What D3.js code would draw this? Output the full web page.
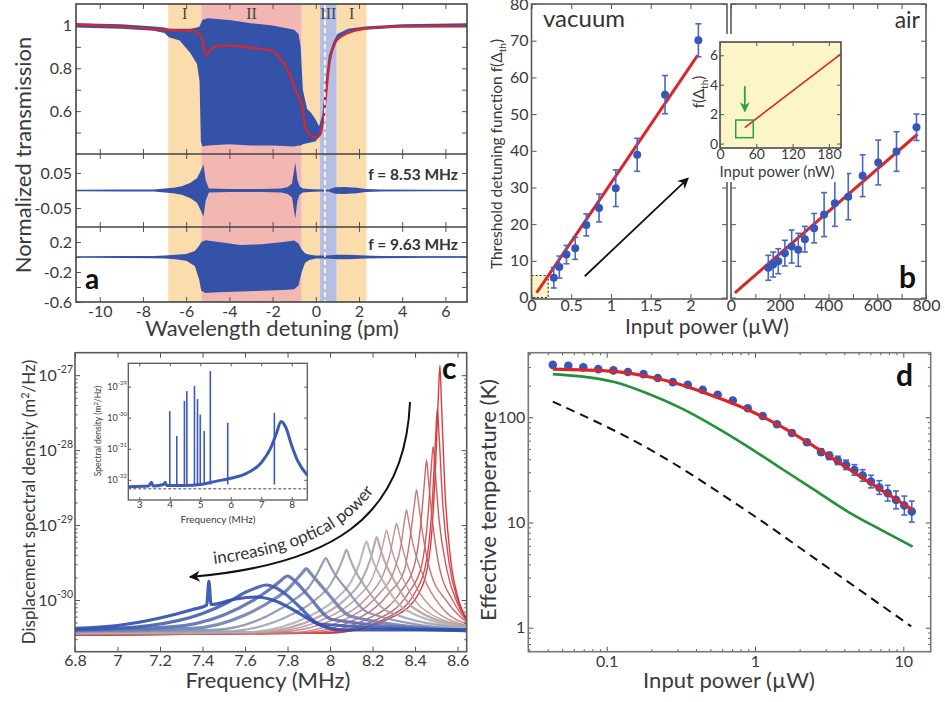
<!DOCTYPE html>
<html><head><meta charset="utf-8">
<script src="https://cdn.jsdelivr.net/npm/d3@7/dist/d3.min.js"></script>
<style>html,body{margin:0;padding:0;background:#fff;}</style>
</head><body>
<svg id="fig" width="945" height="702" xmlns="http://www.w3.org/2000/svg"></svg>
<script>
// ================= DATA =================
// ---- panel a : wavelength detuning (pm) ----
const aRegionStart = [-6.83, -5.3, -0.65, 0.19, 0.97];
const aRegionEnd   = [-5.3, -0.65, 0.19, 0.97, 2.35];
const aRegionKind  = ['I', 'II', 'I', 'III', 'I'];
const aRegionLabel = ['I', 'II', '', 'III', 'I'];
const aDashedAt = 0.42;
const aXTicks = [-10, -8, -6, -4, -2, 0, 2, 4, 6];
// transmission envelope (blue band)
const envDet = [-11.1, -9, -7.5, -7.0, -6.8, -6.3, -5.8, -5.5, -5.38, -5.32, -5.25, -5.0, -4.0, -3.0, -2.0, -1.0, -0.8, -0.7, -0.6, -0.4, -0.2, 0.0, 0.15, 0.3, 0.45, 0.6, 0.8, 1.0, 1.5, 2.3, 4, 7];
const envUp  = [1.01, 1.005, 0.995, 0.99, 0.985, 0.985, 0.985, 0.99, 0.995, 1.01, 1.025, 1.033, 1.025, 1.01, 1.0, 0.98, 0.96, 0.9, 0.7, 0.61, 0.59, 0.56, 0.53, 0.58, 0.74, 0.86, 0.92, 0.96, 0.985, 0.995, 1.005, 1.01];
const envLow = [0.99, 0.985, 0.975, 0.965, 0.945, 0.93, 0.87, 0.82, 0.74, 0.46, 0.435, 0.44, 0.445, 0.44, 0.44, 0.435, 0.44, 0.44, 0.445, 0.45, 0.455, 0.46, 0.48, 0.52, 0.66, 0.8, 0.88, 0.93, 0.97, 0.98, 0.99, 0.99];
// mean transmission (red)
const meanDet = [-11.1, -9, -7, -6, -5.55, -5.3, -5.07, -4.8, -4.2, -3, -2, -1.52, -1.2, -0.9, -0.66, -0.5, -0.36, -0.15, 0.03, 0.2, 0.3, 0.45, 0.56, 0.7, 0.96, 1.5, 2.35, 4, 7];
const meanVal = [1.005, 0.995, 0.98, 0.975, 0.97, 0.946, 0.86, 0.895, 0.907, 0.895, 0.88, 0.83, 0.77, 0.69, 0.637, 0.53, 0.497, 0.48, 0.476, 0.49, 0.53, 0.65, 0.76, 0.86, 0.93, 0.965, 0.986, 0.995, 0.998];
// f = 8.53 MHz envelope (symmetric)
const mDet = [-11.1, -9, -7.5, -7.0, -6.6, -6.2, -5.8, -5.5, -5.3, -5.2, -5.1, -4.95, -4, -2.5, -1.6, -1.3, -1.1, -0.95, -0.85, -0.75, -0.6, -0.3, 0.2, 0.6, 0.9, 1.3, 1.9, 2.3, 3, 5, 7];
const mAmp = [0.002, 0.003, 0.003, 0.006, 0.008, 0.012, 0.022, 0.035, 0.06, 0.075, 0.03, 0.006, 0.004, 0.004, 0.006, 0.01, 0.02, 0.08, 0.03, 0.012, 0.006, 0.004, 0.003, 0.003, 0.009, 0.01, 0.008, 0.004, 0.003, 0.002, 0.002];
// f = 9.63 MHz envelope
const bDet = [-11.1, -9, -7.5, -7, -6.5, -6, -5.6, -5.4, -5.3, -5.1, -4.5, -3.5, -2.5, -1.5, -1.0, -0.8, -0.65, -0.5, -0.3, 0, 0.5, 1, 1.5, 2.3, 3, 5, 7];
const bUp  = [0.008, 0.012, 0.015, 0.02, 0.03, 0.04, 0.08, 0.15, 0.2, 0.225, 0.2, 0.16, 0.17, 0.2, 0.22, 0.18, 0.1, 0.05, 0.03, 0.02, 0.02, 0.03, 0.03, 0.02, 0.015, 0.01, 0.01];
const bLow = [-0.008, -0.012, -0.015, -0.02, -0.03, -0.05, -0.12, -0.3, -0.45, -0.48, -0.47, -0.46, -0.45, -0.44, -0.43, -0.38, -0.2, -0.08, -0.04, -0.02, -0.02, -0.03, -0.03, -0.02, -0.015, -0.01, -0.01];

// ---- panel b : threshold detuning function ----
const vacP   = [0.28, 0.35, 0.44, 0.55, 0.69, 0.85, 1.06, 1.33, 1.68, 2.10];
const vacF   = [5.4, 8.3, 11.7, 13.4, 19.8, 24.4, 29.8, 38.9, 55.3, 70.1];
const vacErr = [2.8, 3, 2.5, 3, 3, 3.8, 5, 4.5, 5.2, 4.5];
const vacFitP = [0.065, 2.09];
const vacFitF = [1.3, 66];
const vacXTicks = [0, 0.5, 1, 1.5, 2];
const bYTicks = [0, 10, 20, 30, 40, 50, 60, 70, 80];
const airP   = [153, 173, 194, 221, 249, 276, 303, 341, 382, 426, 481, 540, 604, 679, 761];
const airF   = [8.1, 9.0, 9.9, 12.1, 13.9, 13.0, 15.9, 18.9, 22.6, 25.7, 27.5, 33.2, 36.8, 39.8, 46.4];
const airErr = [3.4, 3.4, 3.4, 3.5, 4.5, 4.5, 3.5, 4, 6, 6.3, 6.3, 5.7, 6.1, 5.4, 3.6];
const airFitP = [16, 765];
const airFitF = [1.3, 44.5];
const airXTicks = [0, 100, 200, 300, 400, 500, 600, 700, 800];
const insetFitP = [41, 200];
const insetFitF = [1.09, 6.1];
const insetXTicks = [0, 60, 120, 180];
const insetYTicks = [0, 2, 4, 6];
const greenBoxP = [26, 55];
const greenBoxF = [0.4, 1.6];
const greenArrow = [41, 3.9, 2.2];       // x, y from, y to
const zoomBoxP = [0, 0.21];
const zoomBoxF = [0, 6];
const blackArrowP = [0.67, 1.97];
const blackArrowF = [5.8, 32.5];

// ---- panel c : displacement spectral density, [MHz, log10(m^2/Hz)] ----
const psdTraces = [
 [[6.8,-30.47],[8.0,-30.44],[8.3,-30.22],[8.42,-29.9],[8.47,-29.35],[8.495,-28.3],[8.51,-27.25],[8.517,-26.87],[8.524,-27.35],[8.54,-28.5],[8.565,-29.4],[8.60,-29.95],[8.643,-30.25]],
 [[6.8,-30.47],[8.0,-30.44],[8.28,-30.22],[8.40,-29.9],[8.455,-29.45],[8.482,-28.65],[8.497,-27.8],[8.505,-27.45],[8.513,-27.8],[8.53,-28.7],[8.56,-29.5],[8.60,-30.0],[8.643,-30.27]],
 [[6.8,-30.47],[7.95,-30.44],[8.25,-30.22],[8.37,-29.9],[8.43,-29.55],[8.46,-28.9],[8.476,-28.25],[8.485,-27.95],[8.494,-28.25],[8.512,-28.9],[8.55,-29.6],[8.60,-30.05],[8.643,-30.28]],
 [[6.8,-30.46],[7.9,-30.44],[8.2,-30.22],[8.33,-29.9],[8.40,-29.5],[8.43,-28.9],[8.445,-28.4],[8.454,-28.13],[8.463,-28.4],[8.48,-28.9],[8.51,-29.5],[8.58,-30.02],[8.643,-30.28]],
 [[6.8,-30.46],[7.85,-30.44],[8.15,-30.22],[8.28,-29.9],[8.35,-29.6],[8.38,-29.1],[8.397,-28.72],[8.407,-28.53],[8.417,-28.72],[8.435,-29.1],[8.47,-29.6],[8.55,-30.02],[8.643,-30.3]],
 [[6.8,-30.46],[7.8,-30.44],[8.1,-30.22],[8.23,-29.92],[8.30,-29.62],[8.335,-29.25],[8.35,-28.95],[8.36,-28.8],[8.37,-28.95],[8.39,-29.25],[8.43,-29.62],[8.52,-30.08],[8.643,-30.32]],
 [[6.8,-30.45],[7.75,-30.43],[8.05,-30.22],[8.18,-29.95],[8.25,-29.66],[8.285,-29.35],[8.302,-29.1],[8.313,-28.98],[8.324,-29.1],[8.345,-29.35],[8.38,-29.66],[8.47,-30.08],[8.643,-30.34]],
 [[6.8,-30.45],[7.7,-30.43],[8.0,-30.22],[8.13,-29.96],[8.20,-29.7],[8.235,-29.42],[8.254,-29.2],[8.266,-29.07],[8.278,-29.2],[8.30,-29.42],[8.34,-29.7],[8.43,-30.1],[8.643,-30.35]],
 [[6.8,-30.44],[7.65,-30.43],[7.95,-30.22],[8.08,-29.97],[8.15,-29.73],[8.188,-29.47],[8.207,-29.28],[8.22,-29.16],[8.233,-29.28],[8.255,-29.47],[8.30,-29.73],[8.39,-30.1],[8.643,-30.36]],
 [[6.8,-30.44],[7.6,-30.43],[7.9,-30.22],[8.03,-29.98],[8.10,-29.75],[8.14,-29.5],[8.157,-29.33],[8.171,-29.22],[8.185,-29.33],[8.205,-29.5],[8.25,-29.75],[8.35,-30.12],[8.643,-30.37]],
 [[6.8,-30.43],[7.5,-30.42],[7.8,-30.22],[7.93,-30.0],[8.0,-29.8],[8.045,-29.56],[8.063,-29.43],[8.077,-29.33],[8.091,-29.43],[8.11,-29.56],[8.16,-29.8],[8.27,-30.15],[8.643,-30.38]],
 [[6.8,-30.42],[7.45,-30.4],[7.7,-30.22],[7.83,-30.0],[7.9,-29.83],[7.945,-29.62],[7.965,-29.51],[7.98,-29.44],[7.995,-29.51],[8.015,-29.62],[8.07,-29.83],[8.18,-30.17],[8.643,-30.4]],
 [[6.8,-30.41],[7.35,-30.38],[7.6,-30.2],[7.73,-30.0],[7.80,-29.86],[7.85,-29.7],[7.872,-29.63],[7.888,-29.58],[7.904,-29.63],[7.925,-29.7],[7.98,-29.88],[8.1,-30.22],[8.643,-30.41]],
 [[6.8,-30.4],[7.25,-30.36],[7.5,-30.2],[7.63,-30.02],[7.71,-29.87],[7.765,-29.75],[7.785,-29.7],[7.80,-29.68],[7.815,-29.7],[7.84,-29.76],[7.9,-29.95],[8.01,-30.26],[8.643,-30.41]],
 [[6.8,-30.4],[7.15,-30.34],[7.4,-30.18],[7.52,-30.03],[7.60,-29.9],[7.66,-29.83],[7.70,-29.8],[7.74,-29.83],[7.79,-29.92],[7.86,-30.1],[7.95,-30.32],[8.643,-30.41]],
 [[6.8,-30.38],[7.0,-30.34],[7.2,-30.24],[7.35,-30.13],[7.42,-30.07],[7.43,-29.75],[7.44,-30.06],[7.55,-29.99],[7.65,-29.96],[7.75,-30.02],[7.85,-30.17],[7.95,-30.33],[8.05,-30.4],[8.643,-30.4]]
];
const cXTicks = [6.8, 7, 7.2, 7.4, 7.6, 7.8, 8, 8.2, 8.4, 8.6];
const cYDecades = [-30, -29, -28, -27];
// inset of c (broad spectrum)
const insBaseF = [2.64, 3.3, 3.4, 3.45, 3.8, 3.85, 3.9, 4.5, 5.0, 5.5, 6.0, 6.5, 7.0, 7.3, 7.5, 7.65, 7.8, 8.0, 8.2, 8.51];
const insBaseL = [-32.22, -32.2, -32.08, -32.2, -32.15, -32.08, -32.18, -32.18, -32.15, -32.05, -31.95, -31.8, -31.45, -31.0, -30.5, -30.12, -30.3, -30.9, -31.4, -31.85];
const insSpikeF = [4.0, 4.23, 4.48, 4.56, 4.81, 4.91, 5.0, 5.13, 5.33, 5.9, 7.43];
const insSpikeL = [-29.79, -30.59, -29.46, -29.14, -28.98, -29.4, -29.9, -30.43, -28.5, -30.16, -29.84];
const insNoiseFloor = -32.29;
const insXTicks = [3, 4, 5, 6, 7, 8];
const insYDecades = [-32, -31, -30, -29];

// ---- panel d : effective temperature ----
const dP   = [0.0433,0.0551,0.0695,0.0877,0.111,0.139,0.177,0.221,0.279,0.352,0.444,0.560,0.708,0.893,1.127,1.406,1.774,2.239,2.786,3.17,3.614,4.11,4.68,5.32,6.05,6.89,7.85,8.93,10.16,11.4];
const dT   = [315,309,298,287,279,269,257,236,216,204,182,164,144,122,103,86,71,58,46.7,43,38.9,35.3,31.6,28,24.5,21.5,19,16.4,14.5,12.7];
const dErr = [0,0,0,0,0,0,0,0,0,0,0,0,0,0,0,0,0,0,0.03,0.035,0.04,0.045,0.05,0.055,0.06,0.065,0.075,0.085,0.09,0.1]; // log10 half-width
const dFitP = [0.0433,0.1127,0.1888,0.317,0.532,0.893,1.496,2.512,4.217,7.079,11.56];
const dRedT = [287,273,244,204,158,118,82,52.7,32.8,20.4,13.2];
const dGreenT = [257,216,168,122,82,52.7,32.8,20.4,12.7,8.5,5.9];
const dDashP = [0.0433, 0.189, 0.893, 3.26, 11.3];
const dDashT = [141, 50.8, 12.7, 3.54, 1.03];
const dXTicks = [0.1, 1, 10];
const dYTicks = [1, 10, 100];

// ================= DRAWING =================
const svg = d3.select('#fig');
const F = 'Lato, "Open Sans", "DejaVu Sans", sans-serif';
const TC = '#3a3a3a';
const BLUE = '#3452a8';
const DOT = '#3557b8';
const RED = '#d9262b';
const FRAME = '#5a5a5a';
const hy = s => String(s).replace('\u2212', '-');

const defs = svg.append('defs');
function marker(id, color, w, h) {
  defs.append('marker').attr('id', id).attr('viewBox', '0 0 10 10')
    .attr('refX', 9).attr('refY', 5).attr('markerWidth', w).attr('markerHeight', h)
    .attr('orient', 'auto').attr('markerUnits', 'userSpaceOnUse')
    .append('path').attr('d', 'M0,0 L10,5 L0,10 L3,5 Z').attr('fill', color);
}
marker('arrBlack', '#111', 14, 11);
marker('arrGreen', '#27a33a', 11, 10);

function styleAxis(g, fs) {
  g.select('.domain').remove();
  g.selectAll('.tick line').attr('stroke', '#555').attr('stroke-width', 1);
  g.selectAll('.tick text').attr('font-family', F).attr('font-size', fs).attr('fill', TC);
  return g;
}
function addAxis(gen, tr, fs) { return styleAxis(svg.append('g').attr('transform', tr).call(gen), fs || 15); }
function box(x0, y0, x1, y1, o) {
  o = o || {};
  return svg.append('rect').attr('x', x0).attr('y', y0).attr('width', x1 - x0).attr('height', y1 - y0)
    .attr('fill', o.fill || 'none').attr('stroke', o.stroke || FRAME).attr('stroke-width', o.sw || 1.6)
    .attr('stroke-dasharray', o.dash || null);
}
function txt(x, y, s, o) {
  o = o || {};
  const t = svg.append('text').attr('x', x).attr('y', y).text(s)
    .attr('font-family', o.ff || F).attr('font-size', o.fs || 15).attr('fill', o.fill || TC)
    .attr('text-anchor', o.anchor || 'start').attr('font-weight', o.fw || 'normal');
  if (o.rot) t.attr('transform', `rotate(${o.rot},${x},${y})`);
  return t;
}
const zip2 = (a, b) => a.map((v, i) => [v, b[i]]);

// ---------- Panel a ----------
const xA = d3.scaleLinear().domain([-11.1, 7]).range([76, 467]);
const yA1 = d3.scaleLinear().domain([0.4, 1.1]).range([154, 4]);
const yA2 = d3.scaleLinear().domain([-0.104, 0.104]).range([227, 154]);
const yA3 = d3.scaleLinear().domain([-0.6, 0.4]).range([302, 227]);
const regionFill = { 'I': '#fbdcac', 'II': '#f3b7b3', 'III': '#b6bfe3' };

aRegionStart.forEach((s, i) => {
  svg.append('rect').attr('x', xA(s)).attr('y', 4).attr('width', xA(aRegionEnd[i]) - xA(s)).attr('height', 298)
    .attr('fill', regionFill[aRegionKind[i]]);
});
aRegionStart.forEach((s, i) => {
  if (aRegionLabel[i]) txt(xA((s + aRegionEnd[i]) / 2), 19, aRegionLabel[i],
    { ff: '"Liberation Serif","DejaVu Serif",serif', fs: 16, anchor: 'middle', fill: '#444' });
});
const envData = envDet.map((d, i) => ({ x: d, lo: envLow[i], hi: envUp[i] }));
svg.append('path').datum(envData).attr('fill', BLUE)
  .attr('d', d3.area().x(d => xA(d.x)).y0(d => yA1(d.lo)).y1(d => yA1(d.hi)));
svg.append('path').datum(zip2(meanDet, meanVal)).attr('fill', 'none').attr('stroke', RED).attr('stroke-width', 2.2)
  .attr('d', d3.line().x(d => xA(d[0])).y(d => yA1(d[1])).curve(d3.curveCatmullRom));
const mData = mDet.map((d, i) => ({ x: d, a: mAmp[i] }));
svg.append('path').datum(mData).attr('fill', BLUE)
  .attr('d', d3.area().x(d => xA(d.x)).y0(d => yA2(-d.a)).y1(d => yA2(d.a)));
svg.append('line').attr('x1', 76).attr('x2', 467).attr('y1', yA2(0)).attr('y2', yA2(0)).attr('stroke', BLUE).attr('stroke-width', 1.2);
const bData = bDet.map((d, i) => ({ x: d, lo: bLow[i], hi: bUp[i] }));
svg.append('path').datum(bData).attr('fill', BLUE)
  .attr('d', d3.area().x(d => xA(d.x)).y0(d => yA3(d.lo)).y1(d => yA3(d.hi)));
svg.append('line').attr('x1', 76).attr('x2', 467).attr('y1', yA3(0)).attr('y2', yA3(0)).attr('stroke', BLUE).attr('stroke-width', 1.2);
svg.append('line').attr('x1', xA(aDashedAt)).attr('x2', xA(aDashedAt)).attr('y1', 4).attr('y2', 302)
  .attr('stroke', '#fff').attr('stroke-width', 1.6).attr('stroke-dasharray', '5,3');

// axes a
addAxis(d3.axisBottom(xA).tickValues(aXTicks).tickSize(-5).tickPadding(4).tickFormat(d => hy(d)), 'translate(0,302)', 16);
[4, 154, 227].forEach(y => addAxis(d3.axisTop(xA).tickValues(aXTicks).tickSize(-5).tickFormat(''), `translate(0,${y})`));
[154, 227].forEach(y => addAxis(d3.axisBottom(xA).tickValues(aXTicks).tickSize(-5).tickFormat(''), `translate(0,${y})`));
const lab = (list) => d => list.some(v => Math.abs(v - d) < 1e-9) ? hy(d3.format('~g')(d)) : '';
addAxis(d3.axisLeft(yA1).tickValues([0.5, 0.6, 0.7, 0.8, 0.9, 1.0]).tickSize(-5).tickPadding(4).tickFormat(lab([0.6, 0.8, 1])), 'translate(76,0)', 16);
addAxis(d3.axisRight(yA1).tickValues([0.5, 0.6, 0.7, 0.8, 0.9, 1.0]).tickSize(-5).tickFormat(''), 'translate(467,0)');
addAxis(d3.axisLeft(yA2).tickValues([-0.05, 0.05]).tickSize(-5).tickPadding(4).tickFormat(lab([-0.05, 0.05])), 'translate(76,0)', 16);
addAxis(d3.axisRight(yA2).tickValues([-0.05, 0.05]).tickSize(-5).tickFormat(''), 'translate(467,0)');
addAxis(d3.axisLeft(yA3).tickValues([-0.6, -0.4, -0.2, 0, 0.2]).tickSize(-5).tickPadding(4).tickFormat(lab([-0.6, -0.2, 0.2])), 'translate(76,0)', 16);
addAxis(d3.axisRight(yA3).tickValues([-0.4, -0.2, 0, 0.2]).tickSize(-5).tickFormat(''), 'translate(467,0)');
box(76, 4, 467, 302, { stroke: '#444' });
[154, 227].forEach(y => svg.append('line').attr('x1', 76).attr('x2', 467).attr('y1', y).attr('y2', y).attr('stroke', '#444').attr('stroke-width', 1.6));
txt(458, 180, 'f = 8.53 MHz', { fs: 15.5, fw: 'bold', anchor: 'end', fill: '#333' });
txt(458, 250, 'f = 9.63 MHz', { fs: 15.5, fw: 'bold', anchor: 'end', fill: '#333' });
txt(85, 289, 'a', { fs: 28, fw: 'bold', fill: '#111' });
txt(31, 155, 'Normalized transmission', { fs: 22, anchor: 'middle', rot: -90 });
txt(272, 336, 'Wavelength detuning (pm)', { fs: 22, anchor: 'middle' });

// ---------- Panel b ----------
const xV = d3.scaleLinear().domain([0, 2.46]).range([531.5, 727]);
const yB = d3.scaleLinear().domain([-0.4, 80]).range([299, 4]);
const xAir = d3.scaleLinear().domain([0, 800]).range([731, 926]);

function errDots(xs, ys, es, xScale, yScale, r) {
  const g = svg.append('g');
  xs.forEach((p, i) => {
    const x = xScale(p), y1 = yScale(ys[i] - es[i]), y2 = yScale(ys[i] + es[i]);
    g.append('line').attr('x1', x).attr('x2', x).attr('y1', y1).attr('y2', y2).attr('stroke', '#4a68c2').attr('stroke-width', 1.6);
    [y1, y2].forEach(yy => g.append('line').attr('x1', x - 3).attr('x2', x + 3).attr('y1', yy).attr('y2', yy).attr('stroke', '#4a68c2').attr('stroke-width', 1.6));
  });
  xs.forEach((p, i) => g.append('circle').attr('cx', xScale(p)).attr('cy', yScale(ys[i])).attr('r', r).attr('fill', DOT));
}

// vacuum
box(xV(zoomBoxP[0]), yB(zoomBoxF[1]), xV(zoomBoxP[1]), yB(zoomBoxF[0]), { fill: '#fbf3c3', stroke: '#333', sw: 1.2, dash: '2,2' });
svg.append('path').datum(zip2(vacFitP, vacFitF)).attr('stroke', RED).attr('stroke-width', 3).attr('fill', 'none')
  .attr('d', d3.line().x(d => xV(d[0])).y(d => yB(d[1])));
errDots(vacP, vacF, vacErr, xV, yB, 4);
svg.append('line').attr('x1', xV(blackArrowP[0])).attr('y1', yB(blackArrowF[0])).attr('x2', xV(blackArrowP[1])).attr('y2', yB(blackArrowF[1]))
  .attr('stroke', '#111').attr('stroke-width', 1.8).attr('marker-end', 'url(#arrBlack)');
addAxis(d3.axisBottom(xV).tickValues(vacXTicks).tickSize(-5).tickPadding(1).tickFormat(d => d3.format('~g')(d)), 'translate(0,299)', 16);
addAxis(d3.axisTop(xV).tickValues(vacXTicks).tickSize(-5).tickFormat(''), 'translate(0,4)');
addAxis(d3.axisLeft(yB).tickValues(bYTicks).tickSize(-5).tickPadding(3).tickFormat(d => d), 'translate(531.5,0)', 16);
addAxis(d3.axisRight(yB).tickValues(bYTicks).tickSize(-5).tickFormat(''), 'translate(727,0)');
box(531.5, 4, 727, 299);

// air
svg.append('path').datum(zip2(airFitP, airFitF)).attr('stroke', RED).attr('stroke-width', 3).attr('fill', 'none')
  .attr('d', d3.line().x(d => xAir(d[0])).y(d => yB(d[1])));
errDots(airP, airF, airErr, xAir, yB, 4);
addAxis(d3.axisBottom(xAir).tickValues(airXTicks).tickSize(-5).tickPadding(1).tickFormat(d => d % 200 === 0 ? d : ''), 'translate(0,299)', 16);
addAxis(d3.axisTop(xAir).tickValues(airXTicks).tickSize(-5).tickFormat(''), 'translate(0,4)');
addAxis(d3.axisLeft(yB).tickValues(bYTicks).tickSize(-5).tickFormat(''), 'translate(731,0)');
addAxis(d3.axisRight(yB).tickValues(bYTicks).tickSize(-5).tickFormat(''), 'translate(926,0)');
box(731, 4, 926, 299);
txt(920, 28, 'air', { fs: 23, anchor: 'end', fill: '#333' });
txt(543, 27, 'vacuum', { fs: 24, fill: '#333' });
txt(899, 288, 'b', { fs: 30, fw: 'bold', fill: '#111' });

// inset of b
const xI = d3.scaleLinear().domain([0, 200]).range([720, 841]);
const yI = d3.scaleLinear().domain([-0.3, 6.9]).range([148, 42]);
svg.append('rect').attr('x', 709).attr('y', 34).attr('width', 138).attr('height', 148).attr('fill', '#fff');
box(720, 42, 841, 148, { fill: '#fcf5c8', stroke: '#333', sw: 1.4 });
svg.append('path').datum(zip2(insetFitP, insetFitF)).attr('stroke', RED).attr('stroke-width', 1.6).attr('fill', 'none')
  .attr('d', d3.line().x(d => xI(d[0])).y(d => yI(d[1])));
box(xI(greenBoxP[0]), yI(greenBoxF[1]), xI(greenBoxP[1]), yI(greenBoxF[0]), { stroke: '#27a33a', sw: 1.5 });
svg.append('line').attr('x1', xI(greenArrow[0])).attr('x2', xI(greenArrow[0])).attr('y1', yI(greenArrow[1])).attr('y2', yI(greenArrow[2]))
  .attr('stroke', '#27a33a').attr('stroke-width', 1.8).attr('marker-end', 'url(#arrGreen)');
addAxis(d3.axisBottom(xI).tickValues(insetXTicks).tickSize(-4).tickPadding(1).tickFormat(d => d), 'translate(0,148)', 14);
addAxis(d3.axisTop(xI).tickValues(insetXTicks).tickSize(-4).tickFormat(''), 'translate(0,42)');
addAxis(d3.axisLeft(yI).tickValues(insetYTicks).tickSize(-4).tickPadding(2).tickFormat(d => d), 'translate(720,0)', 14);
addAxis(d3.axisRight(yI).tickValues(insetYTicks).tickSize(-4).tickFormat(''), 'translate(841,0)');
const il = txt(704, 92, 'f(Δ', { fs: 15, anchor: 'middle', rot: -90 });
il.append('tspan').attr('font-size', 10).attr('dy', 4).text('th');
il.append('tspan').attr('dy', -4).text(')');
txt(777, 177, 'Input power (nW)', { fs: 15, anchor: 'middle' });

const bl = txt(502, 154, 'Threshold detuning function f(Δ', { fs: 15.5, anchor: 'middle', rot: -90 });
bl.append('tspan').attr('font-size', 10).attr('dy', 4).text('th');
bl.append('tspan').attr('dy', -4).text(')');
txt(707, 334, 'Input power (µW)', { fs: 21, anchor: 'middle' });

// ---------- Panel c ----------
const xC = d3.scaleLinear().domain([6.8, 8.643]).range([75, 466.7]);
const yC = d3.scaleLog().domain([Math.pow(10, -30.69), Math.pow(10, -26.70)]).range([651.7, 352.7]);
const colC = d3.scaleLinear().domain([0, 9, 15]).range(['#d6262b', '#b2b2b2', '#2d4cae']);
svg.append('defs').append('clipPath').attr('id', 'clipC').append('rect').attr('x', 75).attr('y', 352.7).attr('width', 391.7).attr('height', 299);
const gC = svg.append('g').attr('clip-path', 'url(#clipC)');
const lineC = d3.line().x(d => xC(d[0])).y(d => yC(Math.pow(10, d[1]))).curve(d3.curveMonotoneX);
psdTraces.forEach((tr, i) => {
  gC.append('path').datum(tr).attr('fill', 'none').attr('stroke', colC(i))
    .attr('stroke-width', i < 8 ? 1.4 : (i < 12 ? 2.2 : 3.2)).attr('stroke-opacity', 0.9).attr('d', lineC);
});
const cMinor = [];
[-31, -30, -29, -28, -27].forEach(e => { for (let k = 2; k <= 9; k++) { const v = k * Math.pow(10, e); if (v > yC.domain()[0] && v < yC.domain()[1]) cMinor.push(v); } });
const cMajor = cYDecades.map(e => Math.pow(10, e));
addAxis(d3.axisBottom(xC).tickValues(cXTicks).tickSize(-5).tickPadding(3).tickFormat(d => d3.format('~g')(d)), 'translate(0,651.7)', 16);
addAxis(d3.axisTop(xC).tickValues(cXTicks).tickSize(-5).tickFormat(''), 'translate(0,352.7)');
addAxis(d3.axisLeft(yC).tickValues(cMajor).tickSize(-5).tickFormat(''), 'translate(75,0)');
addAxis(d3.axisLeft(yC).tickValues(cMinor).tickSize(-2.5).tickFormat(''), 'translate(75,0)');
addAxis(d3.axisRight(yC).tickValues(cMajor).tickSize(-5).tickFormat(''), 'translate(466.7,0)');
addAxis(d3.axisRight(yC).tickValues(cMinor).tickSize(-2.5).tickFormat(''), 'translate(466.7,0)');
cYDecades.forEach(e => {
  const t = txt(73, yC(Math.pow(10, e)) + 6, '10', { fs: 16, anchor: 'end' });
  t.append('tspan').attr('font-size', 10.5).attr('dy', -8).text(hy(e));
});
box(75, 352.7, 466.7, 651.7);

// inset c
const xCI = d3.scaleLinear().domain([2.64, 8.51]).range([128.3, 307.3]);
const yCI = d3.scaleLog().domain([Math.pow(10, -32.65), Math.pow(10, -28.25)]).range([500, 363.3]);
svg.append('rect').attr('x', 92).attr('y', 360).attr('width', 218).attr('height', 166).attr('fill', '#fff');
svg.append('line').attr('x1', 128.3).attr('x2', 307.3).attr('y1', yCI(Math.pow(10, insNoiseFloor))).attr('y2', yCI(Math.pow(10, insNoiseFloor)))
  .attr('stroke', '#333').attr('stroke-width', 0.9).attr('stroke-dasharray', '3,2');
insSpikeF.forEach((f, i) => {
  svg.append('line').attr('x1', xCI(f)).attr('x2', xCI(f)).attr('y1', yCI(Math.pow(10, -32.15))).attr('y2', yCI(Math.pow(10, insSpikeL[i])))
    .attr('stroke', '#3d5bb5').attr('stroke-width', 1.6);
});
svg.append('path').datum(zip2(insBaseF, insBaseL)).attr('fill', 'none').attr('stroke', '#3d5bb5').attr('stroke-width', 3)
  .attr('d', d3.line().x(d => xCI(d[0])).y(d => yCI(Math.pow(10, d[1]))).curve(d3.curveMonotoneX));
const ciMajor = insYDecades.map(e => Math.pow(10, e));
addAxis(d3.axisBottom(xCI).tickValues(insXTicks).tickSize(-3).tickPadding(1).tickFormat(d => d), 'translate(0,500)', 10);
addAxis(d3.axisTop(xCI).tickValues(insXTicks).tickSize(-3).tickFormat(''), 'translate(0,363.3)');
addAxis(d3.axisLeft(yCI).tickValues(ciMajor).tickSize(-3).tickFormat(''), 'translate(128.3,0)');
addAxis(d3.axisRight(yCI).tickValues(ciMajor).tickSize(-3).tickFormat(''), 'translate(307.3,0)');
insYDecades.forEach(e => {
  const t = txt(127, yCI(Math.pow(10, e)) + 3, '10', { fs: 9, anchor: 'end' });
  t.append('tspan').attr('font-size', 6).attr('dy', -5).text(hy(e));
});
box(128.3, 363.3, 307.3, 500, { sw: 1.3 });
txt(218, 523, 'Frequency (MHz)', { fs: 10, anchor: 'middle' });
const cil = txt(101, 431, 'Spectral density (m', { fs: 8.5, anchor: 'middle', rot: -90 });
cil.append('tspan').attr('font-size', 6).attr('dy', -3).text('2');
cil.append('tspan').attr('dy', 3).text('/Hz)');

// curved arrow c
svg.append('path').attr('d', 'M410,402 C405,520 330,565 190,577').attr('fill', 'none').attr('stroke', '#111')
  .attr('stroke-width', 2).attr('marker-end', 'url(#arrBlack)');
defs.append('path').attr('id', 'arcText').attr('d', 'M186,567 C326,555 397,512 401,398');
svg.append('text').attr('font-family', F).attr('font-size', 17).attr('fill', '#333')
  .append('textPath').attr('href', '#arcText').attr('startOffset', 28).text('increasing optical power');
txt(442, 379, 'c', { fs: 30, fw: 'bold', fill: '#111' });
const cyl = txt(35, 502, 'Displacement spectral density (m', { fs: 17, anchor: 'middle', rot: -90 });
cyl.append('tspan').attr('font-size', 11).attr('dy', -6).text('2');
cyl.append('tspan').attr('dy', 6).text('/Hz)');
txt(268, 688, 'Frequency (MHz)', { fs: 22, anchor: 'middle' });

// ---------- Panel d ----------
const xD = d3.scaleLog().domain([0.0296, 15.3]).range([528.3, 930.7]);
const yD = d3.scaleLog().domain([0.5916, 411]).range([651.7, 352.7]);
const lineD = d3.line().x(d => xD(d[0])).y(d => yD(d[1])).curve(d3.curveMonotoneX);
svg.append('path').datum(zip2(dDashP, dDashT)).attr('fill', 'none').attr('stroke', '#111').attr('stroke-width', 2)
  .attr('stroke-dasharray', '9,6').attr('d', lineD);
svg.append('path').datum(zip2(dFitP, dGreenT)).attr('fill', 'none').attr('stroke', '#23913a').attr('stroke-width', 2.6).attr('d', lineD);
const gD = svg.append('g');
dP.forEach((p, i) => {
  if (dErr[i] > 0) {
    const x = xD(p), y1 = yD(dT[i] * Math.pow(10, -dErr[i])), y2 = yD(dT[i] * Math.pow(10, dErr[i]));
    gD.append('line').attr('x1', x).attr('x2', x).attr('y1', y1).attr('y2', y2).attr('stroke', '#4a68c2').attr('stroke-width', 1.6);
    [y1, y2].forEach(yy => gD.append('line').attr('x1', x - 3).attr('x2', x + 3).attr('y1', yy).attr('y2', yy).attr('stroke', '#4a68c2').attr('stroke-width', 1.6));
  }
});
dP.forEach((p, i) => gD.append('circle').attr('cx', xD(p)).attr('cy', yD(dT[i])).attr('r', 4.3).attr('fill', DOT));
svg.append('path').datum(zip2(dFitP, dRedT)).attr('fill', 'none').attr('stroke', RED).attr('stroke-width', 3.2).attr('d', lineD);
const dxMinor = [], dyMinor = [];
[0.01, 0.1, 1, 10].forEach(b => { for (let k = 2; k <= 9; k++) { const v = k * b; if (v > 0.0296 && v < 15.3) dxMinor.push(v); } });
[0.1, 1, 10, 100].forEach(b => { for (let k = 2; k <= 9; k++) { const v = k * b; if (v > 0.5916 && v < 411) dyMinor.push(v); } });
addAxis(d3.axisBottom(xD).tickValues(dXTicks).tickSize(-5).tickPadding(4).tickFormat(d => d3.format('~g')(d)), 'translate(0,651.7)', 16);
addAxis(d3.axisBottom(xD).tickValues(dxMinor).tickSize(-2.5).tickFormat(''), 'translate(0,651.7)');
addAxis(d3.axisTop(xD).tickValues(dXTicks).tickSize(-5).tickFormat(''), 'translate(0,352.7)');
addAxis(d3.axisTop(xD).tickValues(dxMinor).tickSize(-2.5).tickFormat(''), 'translate(0,352.7)');
addAxis(d3.axisLeft(yD).tickValues(dYTicks).tickSize(-5).tickPadding(3).tickFormat(d => d), 'translate(528.3,0)', 16);
addAxis(d3.axisLeft(yD).tickValues(dyMinor).tickSize(-2.5).tickFormat(''), 'translate(528.3,0)');
addAxis(d3.axisRight(yD).tickValues(dYTicks).tickSize(-5).tickFormat(''), 'translate(930.7,0)');
addAxis(d3.axisRight(yD).tickValues(dyMinor).tickSize(-2.5).tickFormat(''), 'translate(930.7,0)');
box(528.3, 352.7, 930.7, 651.7, { stroke: '#777' });
txt(896, 386, 'd', { fs: 30, fw: 'bold', fill: '#111' });
txt(496, 500, 'Effective temperature (K)', { fs: 22, anchor: 'middle', rot: -90 });
txt(729, 688, 'Input power (µW)', { fs: 22, anchor: 'middle' });
</script>
</body></html>
